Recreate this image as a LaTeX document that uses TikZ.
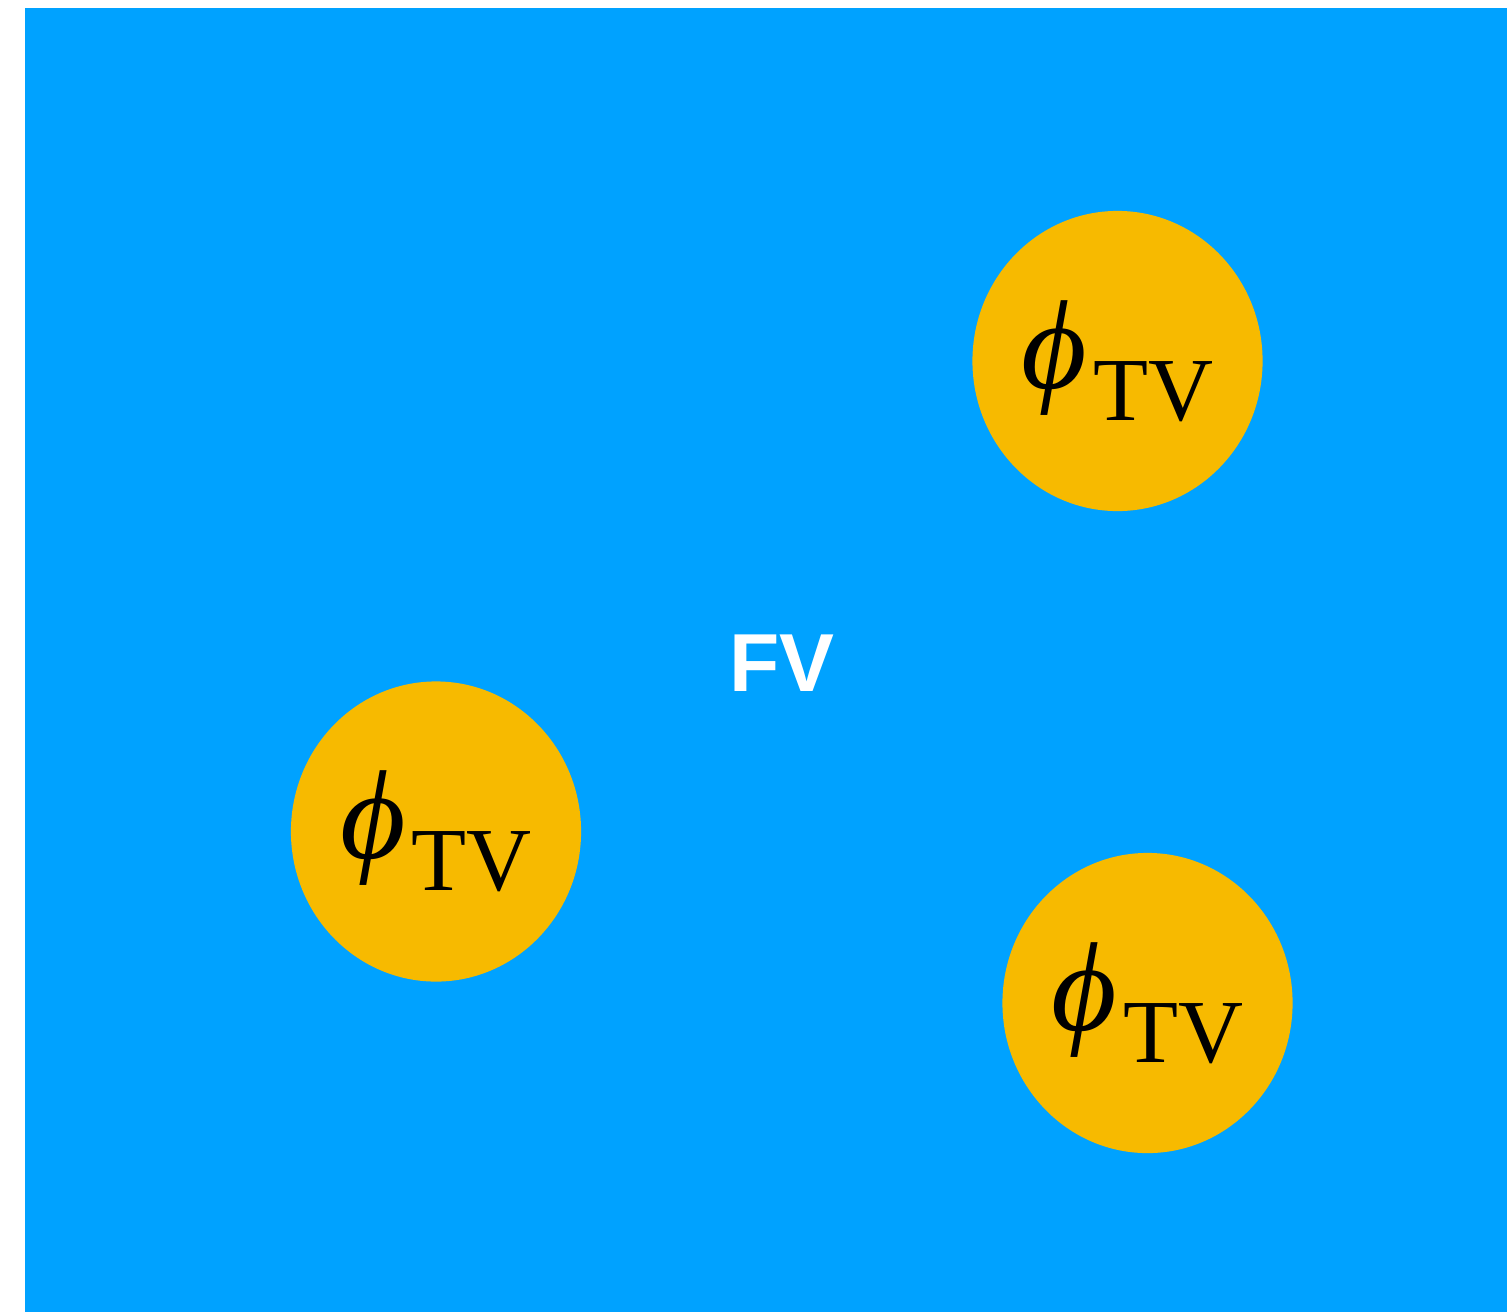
\documentclass[tikz,border=0pt]{standalone}
\usepackage{fontspec}
\newfontfamily\labelfont{Liberation Sans}
\newfontfamily\fieldfont{Liberation Serif}
\usetikzlibrary{shapes.geometric}
\definecolor{Vacuum}{HTML}{00A2FF}
\definecolor{Bubble}{HTML}{F7BA00}
\newcommand{\phitv}{{\itshape ϕ}\kern0.05em\raisebox{-0.25em}{\fontsize{25.6}{28}\selectfont TV}}
\tikzset{
  bubble/.style={
    ellipse, fill=Bubble, inner sep=0pt,
    minimum width=2.9cm, minimum height=3.0cm,
    font=\fieldfont\fontsize{36}{40}\selectfont
  },
  vaclabel/.style={
    text=white, inner sep=0pt, font=\labelfont\bfseries\fontsize{23.4}{28}\selectfont
  }
}
\begin{document}
\begin{tikzpicture}[x=0.01cm,y=-0.01cm]
  \useasboundingbox (0,0) rectangle (1507,1312);
  \fill[Vacuum] (25,8) rectangle (1507,1312);
  \node[vaclabel] (fv) at (782,663) {FV};
  \node[bubble] (b1) at (1117.5,361) {\phitv};
  \node[bubble] (b2) at (436,831.5) {\phitv};
  \node[bubble] (b3) at (1147.5,1003) {\phitv};
\end{tikzpicture}
\end{document}
